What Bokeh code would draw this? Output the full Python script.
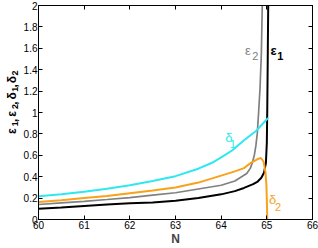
from bokeh.plotting import figure
from bokeh.models import Range1d, LinearAxis, FixedTicker, CustomJSTickFormatter
from bokeh.layouts import row
from bokeh.core.properties import value
from bokeh.embed import file_html
from bokeh.resources import INLINE

# ---- data ----
n_eps1 = [60, 60.5, 61, 61.5, 62, 62.5, 63, 63.5, 64, 64.3, 64.5, 64.7, 64.8, 64.88, 64.94,
          64.98, 65.0, 65.01, 65.02, 65.03]
eps1 = [0.10, 0.113, 0.127, 0.14, 0.152, 0.158, 0.175, 0.20, 0.235, 0.265, 0.295, 0.33, 0.355,
        0.39, 0.44, 0.53, 0.72, 1.05, 1.5, 2.0]

n_eps2 = [60, 60.5, 61, 61.5, 62, 62.5, 63, 63.5, 64, 64.3, 64.56, 64.64, 64.69, 64.73, 64.76,
          64.79, 64.82, 64.85, 64.88, 64.9]
eps2 = [0.14, 0.155, 0.17, 0.187, 0.205, 0.228, 0.25, 0.285, 0.32, 0.36, 0.43, 0.48, 0.54, 0.61,
        0.69, 0.8, 1.0, 1.22, 1.55, 2.0]

n_del1 = [60, 60.5, 61, 61.5, 62, 62.5, 63, 63.5, 63.8, 64, 64.24, 64.5, 64.77, 64.9, 65.03]
del1 = [0.217, 0.237, 0.26, 0.287, 0.32, 0.36, 0.405, 0.475, 0.53, 0.58, 0.645, 0.74, 0.83,
        0.89, 0.95]

n_del2 = [60, 60.5, 61, 61.5, 62, 62.5, 63, 63.5, 64, 64.3, 64.5, 64.65, 64.8, 64.87, 64.93,
          64.97, 64.99, 65.0, 65.01]
del2 = [0.163, 0.18, 0.20, 0.22, 0.245, 0.27, 0.30, 0.345, 0.41, 0.45, 0.48, 0.53, 0.565, 0.575,
        0.54, 0.44, 0.33, 0.18, 0.0]

x_ticks = [60, 61, 62, 63, 64, 65, 66]
y_ticks = [0, 0.2, 0.4, 0.6, 0.8, 1.0, 1.2, 1.4, 1.6, 1.8, 2.0]

BLACK = "#000000"
GRAY = "#808080"
CYAN = "#2ee8f0"
ORANGE = "#f7a21b"
FONT = "Liberation Sans"

TOTAL_W, H = 318, 248
LW = 20                       # width of the strip holding the y title
W = TOTAL_W - LW
BL, BR, BT, BB = 15, 6, 5, 24

p = figure(width=W, height=H, output_backend="svg", toolbar_location=None,
           x_range=Range1d(60, 66), y_range=Range1d(0, 2),
           min_border_left=BL, min_border_right=BR, min_border_top=BT, min_border_bottom=BB)
p.grid.visible = False
p.outline_line_color = "black"
p.outline_line_width = 1
p.background_fill_color = "white"
p.border_fill_color = "white"

fmt = CustomJSTickFormatter(code="return String(parseFloat(tick.toFixed(1)));")
empty = CustomJSTickFormatter(code="return '';")

for ax in p.xaxis + p.yaxis:
    ax.major_tick_in = 4
    ax.major_tick_out = 0
    ax.minor_tick_line_color = None
    ax.axis_line_color = "black"
    ax.major_label_text_font = FONT
    ax.major_label_text_font_size = "10px"
    ax.major_label_text_color = "black"
    ax.major_label_standoff = 1
    ax.formatter = fmt

p.xaxis.ticker = FixedTicker(ticks=x_ticks)
p.yaxis.ticker = FixedTicker(ticks=y_ticks)
p.xaxis.axis_label = "N"
p.xaxis.axis_label_text_font = FONT
p.xaxis.axis_label_text_font_style = "bold"
p.xaxis.axis_label_text_font_size = "12px"
p.xaxis.axis_label_standoff = 0

top = LinearAxis(ticker=FixedTicker(ticks=x_ticks), formatter=empty,
                 major_tick_in=4, major_tick_out=0, minor_tick_line_color=None,
                 major_label_standoff=0, major_label_text_font_size="1px")
right = LinearAxis(ticker=FixedTicker(ticks=y_ticks), formatter=empty,
                   major_tick_in=4, major_tick_out=0, minor_tick_line_color=None,
                   major_label_standoff=0, major_label_text_font_size="1px")
p.add_layout(top, "above")
p.add_layout(right, "right")

p.line(n_eps1, eps1, line_color=BLACK, line_width=2)
p.line(n_eps2, eps2, line_color=GRAY, line_width=1.7)
p.line(n_del1, del1, line_color=CYAN, line_width=2)
p.line(n_del2, del2, line_color=ORANGE, line_width=2)

# curve labels (symbol + subscript)
lab_x = [64.52, 65.08, 64.09, 65.05]
lab_y = [1.58, 1.58, 0.77, 0.19]
lab_t = ["ε", "ε", "δ", "δ"]
sub_x = [64.68, 65.23, 64.19, 65.18]
sub_y = [1.53, 1.53, 0.71, 0.12]
sub_t = ["2", "1", "1", "2"]
lab_c = [GRAY, BLACK, CYAN, ORANGE]
lab_w = ["normal", "bold", "normal", "normal"]

for i in range(4):
    p.text(x=[lab_x[i]], y=[lab_y[i]], text=[lab_t[i]], text_color=lab_c[i],
           text_font=value(FONT), text_font_size="13px", text_font_style=lab_w[i],
           text_align="left", text_baseline="middle")
    p.text(x=[sub_x[i]], y=[sub_y[i]], text=[sub_t[i]], text_color=lab_c[i],
           text_font=value(FONT), text_font_size="11px",
           text_font_style="bold" if lab_w[i] == "bold" else "normal",
           text_align="left", text_baseline="middle")

# ---- y title strip: ε1, ε2, δ1, δ2 rotated with real subscripts ----
yl = figure(width=LW, height=H, output_backend="svg", toolbar_location=None,
            x_range=Range1d(0, LW), y_range=Range1d(0, H),
            x_axis_location=None, y_axis_location=None,
            min_border=0, min_border_left=0, min_border_right=0,
            min_border_top=0, min_border_bottom=0)
yl.grid.visible = False
yl.outline_line_color = None
yl.background_fill_color = "white"
yl.border_fill_color = "white"

y_sym = ["ε", "ε", "δ", "δ"]
y_sub = ["1", "2", "1", "2"]
y_sym_start = [149, 129, 109, 90]     # page pixel rows (from top) where each piece starts
y_sub_start = [140, 120, 100, 81]
y_com_start = [135, 115, 95]
base_px, sub_px = 11.5, 14.5

yl.text(x=[base_px] * 4, y=[H - v for v in y_sym_start], text=y_sym, angle=90,
        angle_units="deg", text_font=value(FONT), text_font_size="12px",
        text_font_style="bold", text_align="left", text_baseline="alphabetic",
        text_color="black")
yl.text(x=[sub_px] * 4, y=[H - v for v in y_sub_start], text=y_sub, angle=90,
        angle_units="deg", text_font=value(FONT), text_font_size="9px",
        text_font_style="bold", text_align="left", text_baseline="alphabetic",
        text_color="black")
yl.text(x=[base_px] * 3, y=[H - v for v in y_com_start], text=[","] * 3, angle=90,
        angle_units="deg", text_font=value(FONT), text_font_size="12px",
        text_font_style="bold", text_align="left", text_baseline="alphabetic",
        text_color="black")

layout = row(yl, p, spacing=0)
open("out.html", "w").write(file_html(layout, INLINE))
